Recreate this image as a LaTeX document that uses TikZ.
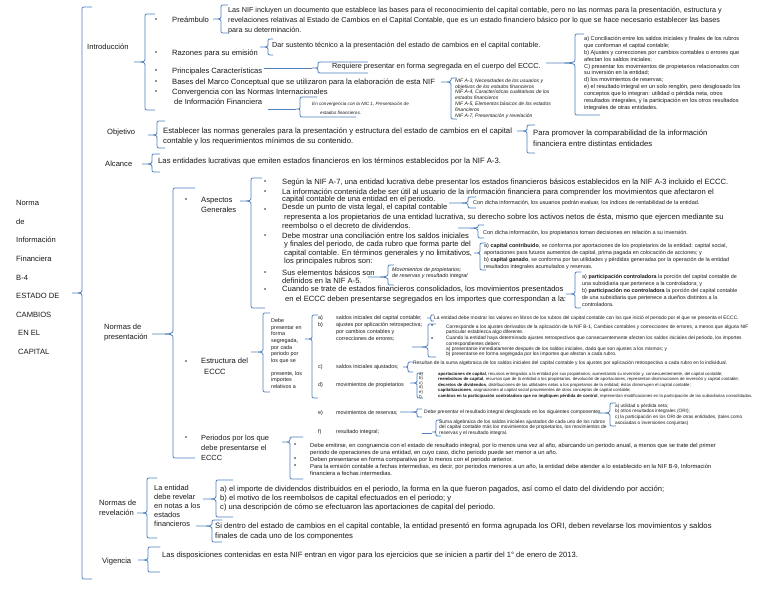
\documentclass[tikz,border=0pt]{standalone}
\usepackage{fontspec}
\setmainfont{Liberation Sans}
\definecolor{brblue}{RGB}{79,129,189}
\definecolor{ink}{RGB}{25,25,25}

% left curly bracket: x, top, bottom, tip x, tip y, top tick end, bottom tick end
\newcommand{\brk}[7]{%
  \pgfmathsetmacro{\ra}{min(4,(#5-#2)/2)}%
  \pgfmathsetmacro{\rb}{min(4,(#3-#5)/2)}%
  \draw[brc] (#6,#2) -- ({#1+\ra},#2) .. controls (#1,#2) .. (#1,{#2+\ra})
    -- (#1,{#5-\ra}) .. controls (#1,#5) .. (#4,#5)
    .. controls (#1,#5) .. (#1,{#5+\rb})
    -- (#1,{#3-\rb}) .. controls (#1,#3) .. ({#1+\rb},#3) -- (#7,#3);}

\begin{document}
\begin{tikzpicture}[
  x=1pt, y=-1pt,
  brc/.style={draw=brblue, line width=0.8pt},
  txt/.style={inner sep=0pt, anchor=west, align=left, text=ink},
  fbig/.style={txt, font=\fontsize{7.6}{9}\selectfont},
  fmain/.style={txt, font=\fontsize{7.6}{10}\selectfont},
  fsmall/.style={txt, font=\fontsize{5.4}{6.9}\selectfont},
  ftiny/.style={txt, font=\fontsize{4.9}{5.4}\selectfont},
  fwee/.style={txt, font=\fontsize{4.3}{4.6}\selectfont},
  dot/.style={txt, font=\fontsize{6}{6}\selectfont},
  ]

  \fill[white] (0,0) rectangle (768,594);
  \useasboundingbox (0,0) rectangle (768,594);

  % Title and main bracket
  \node[txt, font=\fontsize{7.6}{18.6}\selectfont] (title) at (16,277.5)
    {Norma\\de\\Información\\Financiera\\B-4\\ESTADO DE\\CAMBIOS\\\hspace*{2pt}EN EL\\\hspace*{2pt}CAPITAL};
  \brk{82}{7}{579}{72}{293}{92}{92}

  % Section labels
  \node[fmain] (intro) at (87,47) {Introducción};
  \node[fmain] (obj) at (107,133) {Objetivo};
  \node[fmain] (alc) at (105,164) {Alcance};
  \node[fmain] (npres) at (104,333) {Normas de\\presentación};
  \node[fmain] (nrev) at (99,508) {Normas de\\revelación};
  \node[fmain] (vig) at (102,562) {Vigencia};

  % Introduccion
  \brk{145}{14}{110}{134}{62}{155}{155}
  \foreach \yb [count=\i] in {20,53,71,82,92}
    \node[dot] (ib\i) at (155,\yb) {\textbullet};
  \node[fmain] (pre) at (172,20) {Preámbulo};
  \node[fmain] (raz) at (172,53) {Razones para su emisión};
  \node[fmain] (car) at (172,71) {Principales Características};
  \node[fmain] (bas) at (172,82) {Bases del Marco Conceptual que se utilizaron para la elaboración de esta NIF};
  \node[fmain] (conv) at (172,97) {Convergencia con las Normas Internacionales\\\hspace*{2pt}de Información Financiera};

  \brk{221}{5}{33}{213}{19}{228}{228}
  \node[txt, font=\fontsize{7.2}{10}\selectfont] (pretx) at (228,21) {Las NIF incluyen un documento que establece las bases para el reconocimiento del capital contable, pero no las normas para la presentación, estructura y\\revelaciones relativas al Estado de Cambios en el Capital Contable, que es un estado financiero básico por lo que se hace necesario establecer las bases\\para su determinación.};

  \brk{268}{39}{55}{260}{47}{273}{273}
  \node[txt, font=\fontsize{7.2}{10}\selectfont] (raztx) at (272,46) {Dar sustento técnico a la presentación del estado de cambios en el capital contable.};

  \draw[brc] (264,68) -- (312,68);
  \brk{318}{62}{73}{312}{68}{368}{368}
  \node[txt, font=\fontsize{7.3}{10}\selectfont] (cartx) at (332,67) {Requiere presentar en forma segregada en el cuerpo del ECCC.};
  \brk{575}{34}{115}{546}{63}{584}{600}
  \node[txt, font=\fontsize{5.6}{6.9}\selectfont] (cartx2) at (584,73.5) {a) Conciliación entre los saldos iniciales y finales de los rubros\\que conforman el capital contable;\\b) Ajustes y correcciones por cambios contables o errores que\\afectan los saldos iniciales;\\C) presentar los movimientos de propietarios relacionados con\\su inversión en la entidad;\\d) los movimientos de reservas;\\e) el resultado integral en un solo renglón, pero desglosado los\\conceptos que lo integran: utilidad o pérdida neta, otros\\resultados integrales, y la participación en los otros resultados\\integrales de otras entidades.};

  \brk{451}{78}{119}{441}{82}{457}{457}
  \node[txt, font=\fontsize{5}{5.8}\selectfont\itshape] (bastx) at (455,98.5) {NIF A-3, Necesidades de los usuarios y\\objetivos de los estados financieros\\NIF A-4, Características cualitativas de los\\estados financieros\\NIF A-5, Elementos básicos de los estados\\financieros\\NIF A-7, Presentación y revelación};

  \draw[brc] (268,109) -- (296,109);
  \brk{300}{97}{117}{296}{109}{317}{356}
  \node[txt, font=\fontsize{4.6}{5}\selectfont\itshape] (convtx) at (312,104) {En convergencia con la NIC 1, Presentación de};
  \node[txt, font=\fontsize{4.6}{5}\selectfont\itshape] (convtx2) at (320,113) {estados financieros.};

  % Objetivo
  \brk{157}{121}{148}{148}{135}{165}{165}
  \node[txt, font=\fontsize{7.7}{10}\selectfont] (objtx) at (163,136) {Establecer las normas generales para la presentación y estructura del estado de cambios en el capital\\contable y los requerimientos mínimos de su contenido.};
  \brk{527}{125}{153}{517}{131}{535}{535}
  \node[txt, font=\fontsize{7.7}{11}\selectfont] (objtx2) at (533,138.5) {Para promover la comparabilidad de la información\\financiera entre distintas entidades};

  % Alcance
  \brk{152}{154}{172}{142}{164}{160}{160}
  \node[txt, font=\fontsize{7.7}{10}\selectfont] (alctx) at (158,161) {Las entidades lucrativas que emiten estados financieros en los términos establecidos por la NIF A-3.};

  % Normas de presentacion
  \brk{173}{188}{458}{152}{334}{195}{195}
  \node[dot] (pb1) at (185,200) {\textbullet};
  \node[fmain] (asp) at (201,205) {Aspectos\\Generales};
  \node[dot] (pb2) at (185,362) {\textbullet};
  \node[fmain] (est) at (201,361) {Estructura del};
  \node[fmain] (est2) at (204,372) {ECCC};
  \node[dot] (pb3) at (185,438) {\textbullet};
  \node[txt, font=\fontsize{7.4}{10}\selectfont] (per) at (201,448) {Periodos por los que\\debe presentarse el\\ECCC};

  % Aspectos generales
  \brk{251}{178}{308}{240}{201}{262}{265}
  \foreach \yb [count=\i] in {182,192,210,236,273,290}
    \node[dot] (ab\i) at (264,\yb) {\textbullet};
  \node[fbig] (a1) at (282,182) {Según la NIF A-7, una entidad lucrativa debe presentar los estados financieros básicos establecidos en la NIF A-3 incluido el ECCC.};
  \node[fbig] (a2) at (282,192) {La información contenida debe ser útil al usuario de la información financiera para comprender los movimientos que afectaron el};
  \node[fbig] (a2b) at (282,200) {capital contable de una entidad en el periodo.};
  \node[fbig] (a3) at (282,208) {Desde un punto de vista legal, el capital contable};
  \node[fbig] (a3b) at (284,217) {representa a los propietarios de una entidad lucrativa, su derecho sobre los activos netos de ésta, mismo que ejercen mediante su};
  \node[fbig] (a3c) at (282,226) {reembolso o el decreto de dividendos.};
  \node[fbig] (a4) at (282,236) {Debe mostrar una conciliación entre los saldos iniciales};
  \node[fbig] (a4b) at (284,245) {y finales del periodo, de cada rubro que forma parte del};
  \node[fbig] (a4c) at (284,253) {capital contable. En términos generales y no limitativos,};
  \node[fbig] (a4d) at (284,262) {los principales rubros son:};
  \node[fbig] (a5) at (282,273) {Sus elementos básicos son};
  \node[fbig] (a5b) at (282,281) {definidos en la NIF A-5.};
  \node[fbig] (a6) at (282,290) {Cuando se trate de estados financieros consolidados, los movimientos presentados};
  \node[fbig] (a6b) at (285,300) {en el ECCC deben presentarse segregados en los importes que correspondan a la:};

  \brk{468}{197}{208}{449}{203}{476}{476}
  \node[txt, font=\fontsize{5.5}{6}\selectfont] (a2tx) at (473,203) {Con dicha información, los usuarios podrán evaluar, los índices de rentabilidad de la entidad.};
  \brk{478}{225}{238}{458}{228}{484}{484}
  \node[txt, font=\fontsize{5.5}{6}\selectfont] (a3tx) at (483,233) {Con dicha información, los propietarios toman decisiones en relación a su inversión.};
  \brk{480}{243}{270}{474}{253}{486}{486}
  \node[txt, font=\fontsize{5.4}{6.9}\selectfont] (a4tx) at (484,256.5) {a) \textbf{capital contribuido}, se conforma por aportaciones de los propietarios de la entidad: capital social,\\aportaciones para futuros aumentos de capital, prima pagada en colocación de acciones; y\\b) \textbf{capital ganado}, se conforma por las utilidades y pérdidas generadas por la operación de la entidad\\resultados integrales acumulados y reservas.};
  \brk{388}{265}{285}{368}{277}{394}{394}
  \node[txt, font=\fontsize{5.4}{6.5}\selectfont\itshape] (a5tx) at (392,273) {Movimientos de propietarios;\\de reservas y resultado integral};
  \brk{575}{272}{308}{566}{294}{581}{581}
  \node[txt, font=\fontsize{5.4}{6.8}\selectfont] (a6tx) at (582,290.5) {a) \textbf{participación controladora} la porción del capital contable de\\una subsidiaria que pertenece a la controladora; y\\b) \textbf{participación no controladora}  la porción del capital contable\\de una subsidiaria que pertenece a dueños distintos a la\\controladora.};

  % Estructura del ECCC
  \brk{263}{313}{392}{251}{352}{270}{270}
  \begin{scope}
    \clip (266,314) rectangle (310,389);
    \node[txt, font=\fontsize{5.4}{6.7}\selectfont] (esttx) at (271,341) {Debe\\presentar en\\forma\\segregada,\\por cada\\periodo por\\los que se};
    \node[txt, font=\fontsize{5.4}{6.7}\selectfont] (esttx2) at (271,380) {presente, los\\importes\\relativos a};
  \end{scope}
  \brk{312}{315}{398}{305}{339}{318}{318}
  \node[fsmall] (la) at (318,318) {a)};
  \node[fsmall] (lb) at (318,325) {b)};
  \node[fsmall] (lc) at (318,367) {c)};
  \node[fsmall] (ld) at (318,385) {d)};
  \node[fsmall] (le) at (318,413) {e)};
  \node[fsmall] (lf) at (318,432) {f)};
  \node[fsmall] (ta) at (336,318) {saldos iniciales del capital contable;};
  \node[txt, font=\fontsize{5.4}{7}\selectfont] (tb) at (336,332) {ajustes por aplicación retrospectiva;\\por cambios contables y\\correcciones de errores;};
  \node[fsmall] (tc) at (336,367) {saldos iniciales ajustados;};
  \node[fsmall] (td) at (336,385) {movimientos de propietarios};
  \node[fsmall] (te) at (336,413) {movimientos de reservas;};
  \node[fsmall] (tf) at (336,432) {resultado integral;};

  \brk{431}{315}{321}{427}{318}{434}{434}
  \node[ftiny] (tatx) at (434,318) {La entidad debe mostrar los valores en libros de los rubros del capital contable con los que inició el periodo por el que se presenta el ECCC.};
  \brk{428}{324}{357}{412}{347}{436}{436}
  \node[dot] (bb1) at (431,326) {\textbullet};
  \node[dot] (bb2) at (431,339) {\textbullet};
  \node[ftiny] (tbtx) at (446,329.5) {Corresponde a los ajustes derivados de la aplicación de la NIF B-1, Cambios contables y correcciones de errores, a menos que alguna NIF\\particular establezca algo diferente.};
  \node[ftiny] (tbtx2) at (446,346.5) {Cuando la entidad haya determinado ajustes retrospectivos que consecuentemente afecten los saldos iniciales del periodo, los importes\\correspondientes deben:\\a) presentarse inmediatamente después de los saldos iniciales, dado que son ajustes a los mismos; y\\b) presentarse en forma segregada por los importes que afectan a cada rubro.};
  \brk{408}{362}{372}{403}{367}{413}{413}
  \node[ftiny] (tctx) at (413,363) {Resultan de la suma algebraica de los saldos iniciales del capital contable y los ajustes por aplicación retrospectiva a cada rubro en lo individual.};
  \brk{417}{373}{398}{410}{383}{423}{423}
  \node[fwee] (tdl) at (419,385.5) {a)\\b)\\c)\\d)\\e)\\f)};
  \node[txt, font=\fontsize{4.3}{5.5}\selectfont] (tdtx) at (438,385) {\textbf{aportaciones de capital}, recursos entregados a la entidad por sus propietarios, aumentando su inversión y, consecuentemente, del capital contable;\\\textbf{reembolsos de capital}, recursos que de la entidad a los propietarios, devolución de aportaciones, representan disminuciones de inversión y capital contable;\\\textbf{decretos de dividendos}, distribuciones de las utilidades netas a los propietarios de la entidad; éstos disminuyen el capital contable;\\\textbf{capitalizaciones}, asignaciones al capital social provenientes de otros conceptos de capital contable;\\\textbf{cambios en la participación controladora que no impliquen pérdida de control}, representan modificaciones en la participación de las subsidiarias consolidadas.};
  \brk{417}{409}{417}{400}{412}{422}{422}
  \node[txt, font=\fontsize{5}{5.5}\selectfont] (tetx) at (424,412) {Debe presentar el resultado integral desglosado en los siguientes componentes};
  \brk{610}{403}{426}{598}{413}{616}{616}
  \node[txt, font=\fontsize{4.7}{5.7}\selectfont] (tetx2) at (615,414.5) {a) utilidad o pérdida neta;\\b) otros resultados integrales (ORI);\\c) la participación en los ORI de otras entidades, (tales como\\asociadas o inversiones conjuntas)};
  \draw[brc] (422,433) -- (432,433);
  \brk{436}{420}{436}{432}{432}{441}{441}
  \node[txt, font=\fontsize{4.9}{5.5}\selectfont] (tftx) at (439,427.7) {Suma algebraica de los saldos iniciales ajustados de cada uno de los rubros\\del capital contable más los movimientos de propietarios, los movimientos de\\reservas y el resultado integral.};

  % Periodos
  \brk{290}{437}{479}{282}{442}{303}{303}
  \foreach \yb [count=\i] in {445,459,466}
    \node[dot] (qb\i) at (294,\yb) {\textbullet};
  \node[txt, font=\fontsize{5.8}{7}\selectfont] (pertx) at (310,459) {Debe emitirse, en congruencia con el estado  de resultado integral, por lo menos una vez al año, abarcando un periodo anual, a menos que se trate del primer\\periodo de operaciones de una entidad, en cuyo caso, dicho periodo puede ser menor a un año.\\Deben presentarse en forma comparativa por lo menos con el periodo anterior.\\Para la emisión contable a fechas intermedias, es decir, por periodos menores a un año, la entidad debe atender a lo establecido en la NIF B-9, Información\\financiera a fechas intermedias.};

  % Normas de revelacion
  \brk{147}{478}{538}{137}{513}{157}{157}
  \node[txt, font=\fontsize{7.4}{9}\selectfont] (rev) at (154,506) {La entidad\\debe revelar\\en notas a los\\estados\\financieros};
  \brk{216}{480}{517}{203}{499}{233}{233}
  \node[txt, font=\fontsize{7.6}{9}\selectfont] (revtx) at (220,498) {a) el importe de dividendos distribuidos en el periodo, la forma en la que fueron pagados, así como el dato del dividendo por acción;\\b) el motivo de los reembolsos de capital efectuados en el periodo; y\\c) una descripción de cómo se efectuaron las aportaciones de capital del periodo.};
  \brk{212}{520}{542}{196}{526}{222}{222}
  \node[txt, font=\fontsize{7.7}{10}\selectfont] (revtx2) at (215,531) {Si dentro del estado de cambios en el capital contable, la entidad presentó en forma agrupada los ORI, deben revelarse los movimientos y saldos\\finales de cada uno de los componentes};

  % Vigencia
  \brk{148}{547}{572}{138}{560}{160}{160}
  \node[txt, font=\fontsize{7.6}{10}\selectfont] (vigtx) at (162,556) {Las disposiciones contenidas en esta NIF entran en vigor para los ejercicios que se inicien a partir del 1° de enero de 2013.};

\end{tikzpicture}
\end{document}
